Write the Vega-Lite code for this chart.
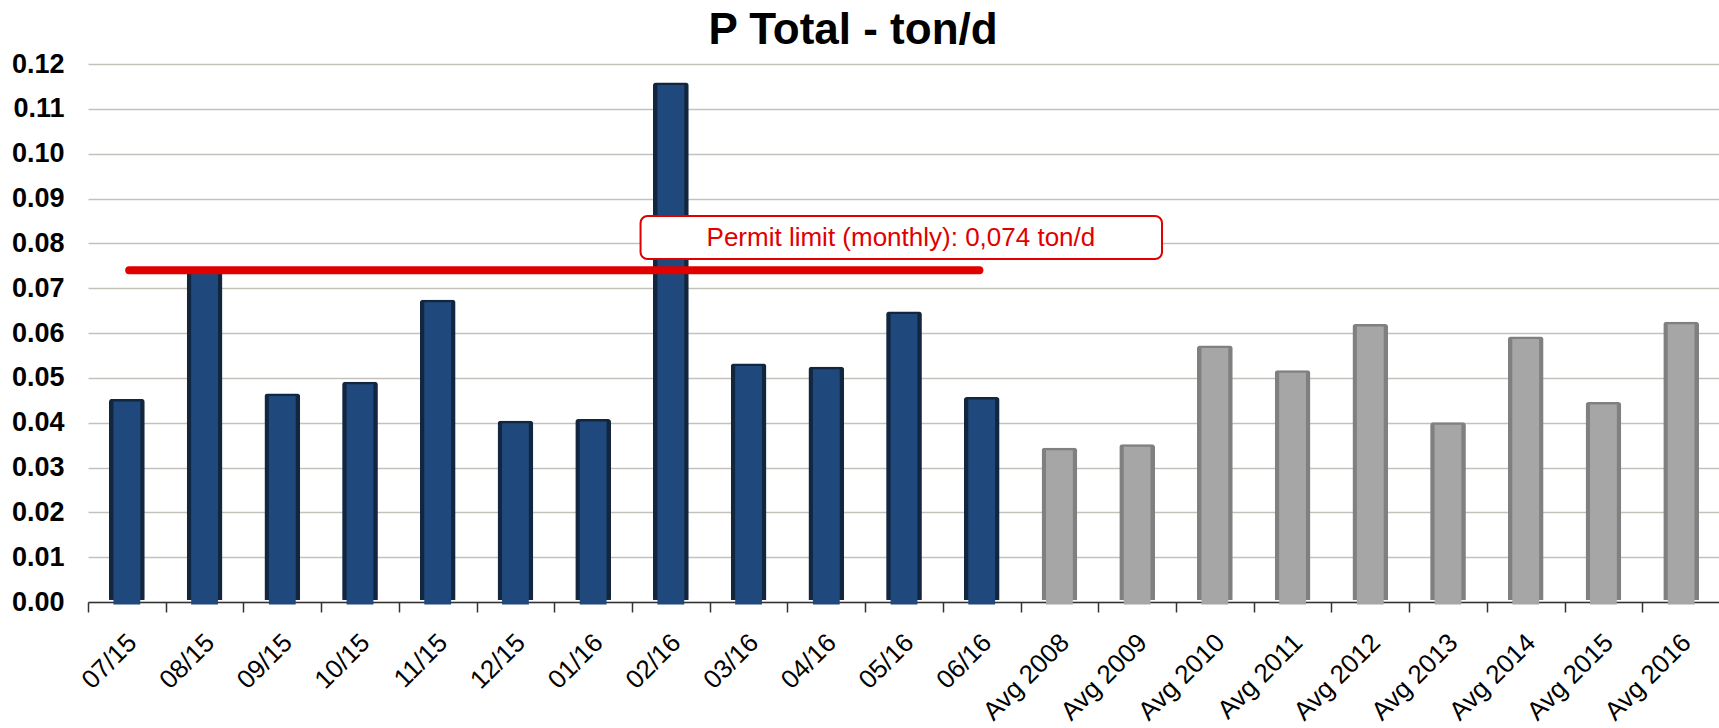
{
  "$schema": "https://vega.github.io/schema/vega-lite/v6.json",
  "width": 1632,
  "height": 538,
  "autosize": "none",
  "padding": {"left": 88, "top": 64, "right": 0, "bottom": 126},
  "background": "white",
  "config": {"font": "Liberation Sans", "view": {"stroke": null}},
  "title": {"text": "P Total - ton/d", "fontSize": 44, "fontWeight": "bold", "font": "Liberation Sans", "color": "#000000", "anchor": "middle", "frame": "group", "dx": -51, "offset": 0, "dy": 3},
  "layer": [
    {
      "data": {"values": [
        {"cat": "07/15", "v": 0.0453, "g": "M"},
        {"cat": "08/15", "v": 0.0745, "g": "M"},
        {"cat": "09/15", "v": 0.0465, "g": "M"},
        {"cat": "10/15", "v": 0.0491, "g": "M"},
        {"cat": "11/15", "v": 0.0674, "g": "M"},
        {"cat": "12/15", "v": 0.0404, "g": "M"},
        {"cat": "01/16", "v": 0.0408, "g": "M"},
        {"cat": "02/16", "v": 0.1159, "g": "M"},
        {"cat": "03/16", "v": 0.0532, "g": "M"},
        {"cat": "04/16", "v": 0.0525, "g": "M"},
        {"cat": "05/16", "v": 0.0648, "g": "M"},
        {"cat": "06/16", "v": 0.0457, "g": "M"},
        {"cat": "Avg 2008", "v": 0.0344, "g": "A"},
        {"cat": "Avg 2009", "v": 0.0352, "g": "A"},
        {"cat": "Avg 2010", "v": 0.0572, "g": "A"},
        {"cat": "Avg 2011", "v": 0.0517, "g": "A"},
        {"cat": "Avg 2012", "v": 0.0620, "g": "A"},
        {"cat": "Avg 2013", "v": 0.0401, "g": "A"},
        {"cat": "Avg 2014", "v": 0.0592, "g": "A"},
        {"cat": "Avg 2015", "v": 0.0446, "g": "A"},
        {"cat": "Avg 2016", "v": 0.0625, "g": "A"}
      ]},
      "encoding": {
        "x": {"field": "cat", "type": "nominal", "sort": null,
          "scale": {"paddingInner": 0, "paddingOuter": 0},
          "axis": {"title": null, "labelAngle": -45, "labelFontSize": 26, "labelColor": "#000000", "labelPadding": 17, "labelOffset": -4,
            "tickSize": 10, "tickColor": "#333333", "tickWidth": 1.5, "domainColor": "#333333", "domainWidth": 1.5,
            "tickBand": "extent", "grid": false}},
        "y": {"field": "v", "type": "quantitative",
          "scale": {"domain": [0, 0.12], "nice": false},
          "axis": {"title": null, "values": [0, 0.01, 0.02, 0.03, 0.04, 0.05, 0.06, 0.07, 0.08, 0.09, 0.10, 0.11, 0.12],
            "format": ".2f", "labelFontSize": 27, "labelFontWeight": "bold", "labelColor": "#000000", "labelPadding": 24,
            "ticks": false, "domain": false, "gridColor": "#c2c2ba", "gridWidth": 1.5}}
      },
      "layer": [
        {
          "mark": {"type": "bar", "width": {"band": 0.46}, "cornerRadius": 3, "yOffset": -2},
          "encoding": {
            "fill": {"field": "g", "type": "nominal", "scale": {"domain": ["M", "A"], "range": ["#12263f", "#808080"]}, "legend": null}
          }
        },
        {
          "mark": {"type": "bar", "width": {"band": 0.345}, "yOffset": 2.5, "y2Offset": -1.5},
          "encoding": {
            "fill": {"field": "g", "type": "nominal", "scale": {"domain": ["M", "A"], "range": ["#1f497d", "#a6a6a6"]}, "legend": null}
          }
        }
      ],
      "resolve": {"scale": {"fill": "independent"}}
    },
    {
      "data": {"values": [{"a": 0.53, "b": 11.47, "lim": 0.074}]},
      "mark": {"type": "rule", "color": "#e00000", "strokeWidth": 8, "strokeCap": "round"},
      "encoding": {
        "x": {"field": "a", "type": "quantitative", "scale": {"domain": [0, 21], "nice": false, "zero": false}, "axis": null},
        "x2": {"field": "b"},
        "y": {"field": "lim", "type": "quantitative"}
      }
    },
    {
      "data": {"values": [{"x1": 7.11, "x2": 13.82, "y1": 0.0861, "y2": 0.0765}]},
      "mark": {"type": "rect", "fill": "white", "stroke": "#e00000", "strokeWidth": 2, "cornerRadius": 7},
      "encoding": {
        "x": {"field": "x1", "type": "quantitative", "scale": {"domain": [0, 21], "nice": false, "zero": false}, "axis": null},
        "x2": {"field": "x2"},
        "y": {"field": "y1", "type": "quantitative"},
        "y2": {"field": "y2"}
      }
    },
    {
      "data": {"values": [{"x": 10.46, "y": 0.0811, "label": "Permit limit (monthly):  0,074 ton/d"}]},
      "mark": {"type": "text", "fontSize": 26, "color": "#e00000", "align": "center", "baseline": "middle"},
      "encoding": {
        "x": {"field": "x", "type": "quantitative", "scale": {"domain": [0, 21], "nice": false, "zero": false}, "axis": null},
        "y": {"field": "y", "type": "quantitative"},
        "text": {"field": "label"}
      }
    }
  ],
  "resolve": {"scale": {"x": "independent"}}
}
